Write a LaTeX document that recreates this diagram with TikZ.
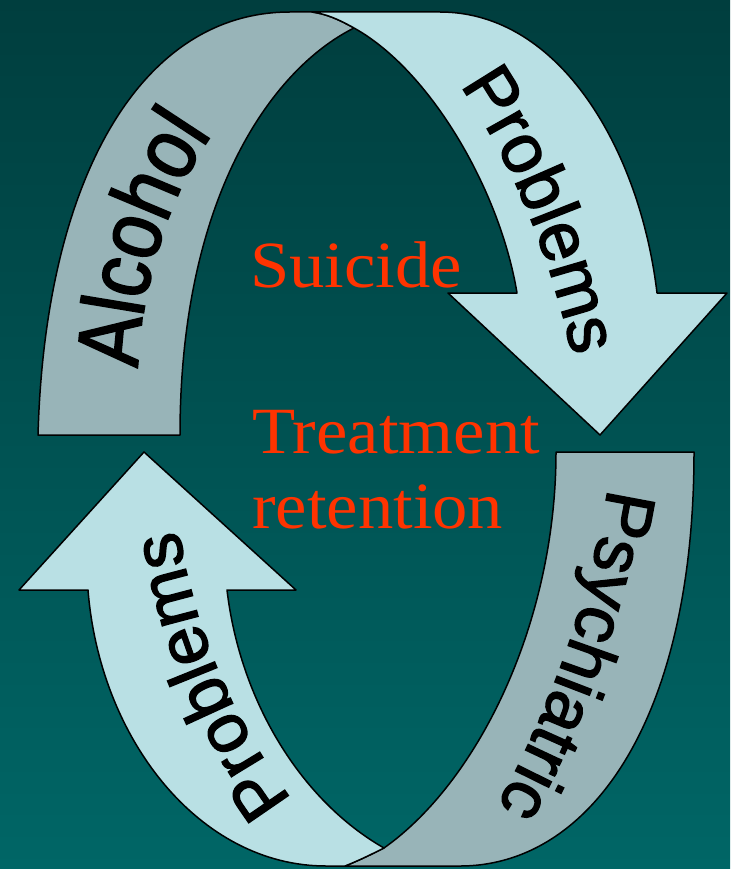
\documentclass[tikz,border=0pt]{standalone}
\usepackage{fontspec}
\setmainfont[FakeStretch=1.07]{Liberation Serif}
\newfontfamily\bandfont[FakeBold=2]{Liberation Sans}
\newfontfamily\narrowbandfont[FakeBold=2, FakeStretch=0.86]{Liberation Sans}
\usetikzlibrary{decorations.text}

\definecolor{tealdark}{RGB}{0,62,62}
\definecolor{teallight}{RGB}{0,102,102}
\definecolor{bandgray}{RGB}{152,180,184}
\definecolor{bandcyan}{RGB}{185,224,228}
\definecolor{labelred}{RGB}{255,51,0}

\newcommand\bigsans{\narrowbandfont\fontsize{88}{88}\selectfont}
\newcommand\midsans{\bandfont\fontsize{70}{70}\selectfont}

\tikzset{
    band/.style={draw=black, line width=1.5pt, line join=round},
    redlabel/.style={text=labelred, inner sep=0pt, anchor=base west,
        font=\rmfamily\fontsize{66}{66}\selectfont},
}

\begin{document}
\begin{tikzpicture}[x=1pt, y=-1pt]
    % Background
    \useasboundingbox (0,0) rectangle (730,869);
    \fill[top color=tealdark, bottom color=teallight] (0,0) rectangle (730,869);

    % Upper arrow, back half
    \filldraw[band, fill=bandgray] (38,435) -- (180,435)
        .. controls (180,200) and (270,70) .. (354,28)
        .. controls (338,19) and (326,14) .. (312,12) -- (290,12)
        .. controls (140,12) and (45,180) .. (38,435) -- cycle;
    % Upper arrow, front half with head
    \filldraw[band, fill=bandcyan] (312,12) -- (440,12)
        .. controls (560,12) and (640,150) .. (657,293)
        -- (727,293) -- (600,435) -- (448,293) -- (517,293)
        .. controls (500,190) and (430,70) .. (354,28)
        .. controls (338,19) and (326,14) .. (312,12) -- cycle;

    % Lower arrow, back half
    \filldraw[band, fill=bandgray] (556,452) -- (694,452)
        .. controls (694,720) and (590,866) .. (460,866) -- (345,866)
        .. controls (360,860) and (372,854) .. (384,848)
        .. controls (480,780) and (556,620) .. (556,452) -- cycle;
    % Lower arrow, front half with head
    \filldraw[band, fill=bandcyan] (345,866) -- (326,866)
        .. controls (200,866) and (100,740) .. (88,590)
        -- (19,590) -- (144,452) -- (296,590) -- (227,590)
        .. controls (240,700) and (300,800) .. (384,848)
        .. controls (372,854) and (360,860) .. (345,866) -- cycle;

    % Words along the ribbons
    \path[decorate, decoration={text along path, text={|\bigsans|Alcohol}}]
        (138,368) .. controls (141,290) and (165,200) .. (215,130) -- (240,95);
    \path[decorate, decoration={text along path, text={|\midsans|Problems}}]
        (460,85) .. controls (510,160) and (545,240) .. (570,345) -- (580,390);
    \path[decorate, decoration={text along path, text={|\midsans|Psychiatric}}]
        (608,488) .. controls (590,600) and (550,710) .. (495,810) -- (470,845);
    \path[decorate, decoration={text along path, text={|\midsans|Problems}}]
        (292,800) .. controls (240,730) and (195,640) .. (178,525) -- (172,480);

    % Centre labels
    \node[redlabel] (suicide) at (250,287) {Suicide};
    \node[redlabel] (treatment) at (252,453) {Treatment};
    \node[redlabel] (retention) at (252,528) {retention};
\end{tikzpicture}
\end{document}
